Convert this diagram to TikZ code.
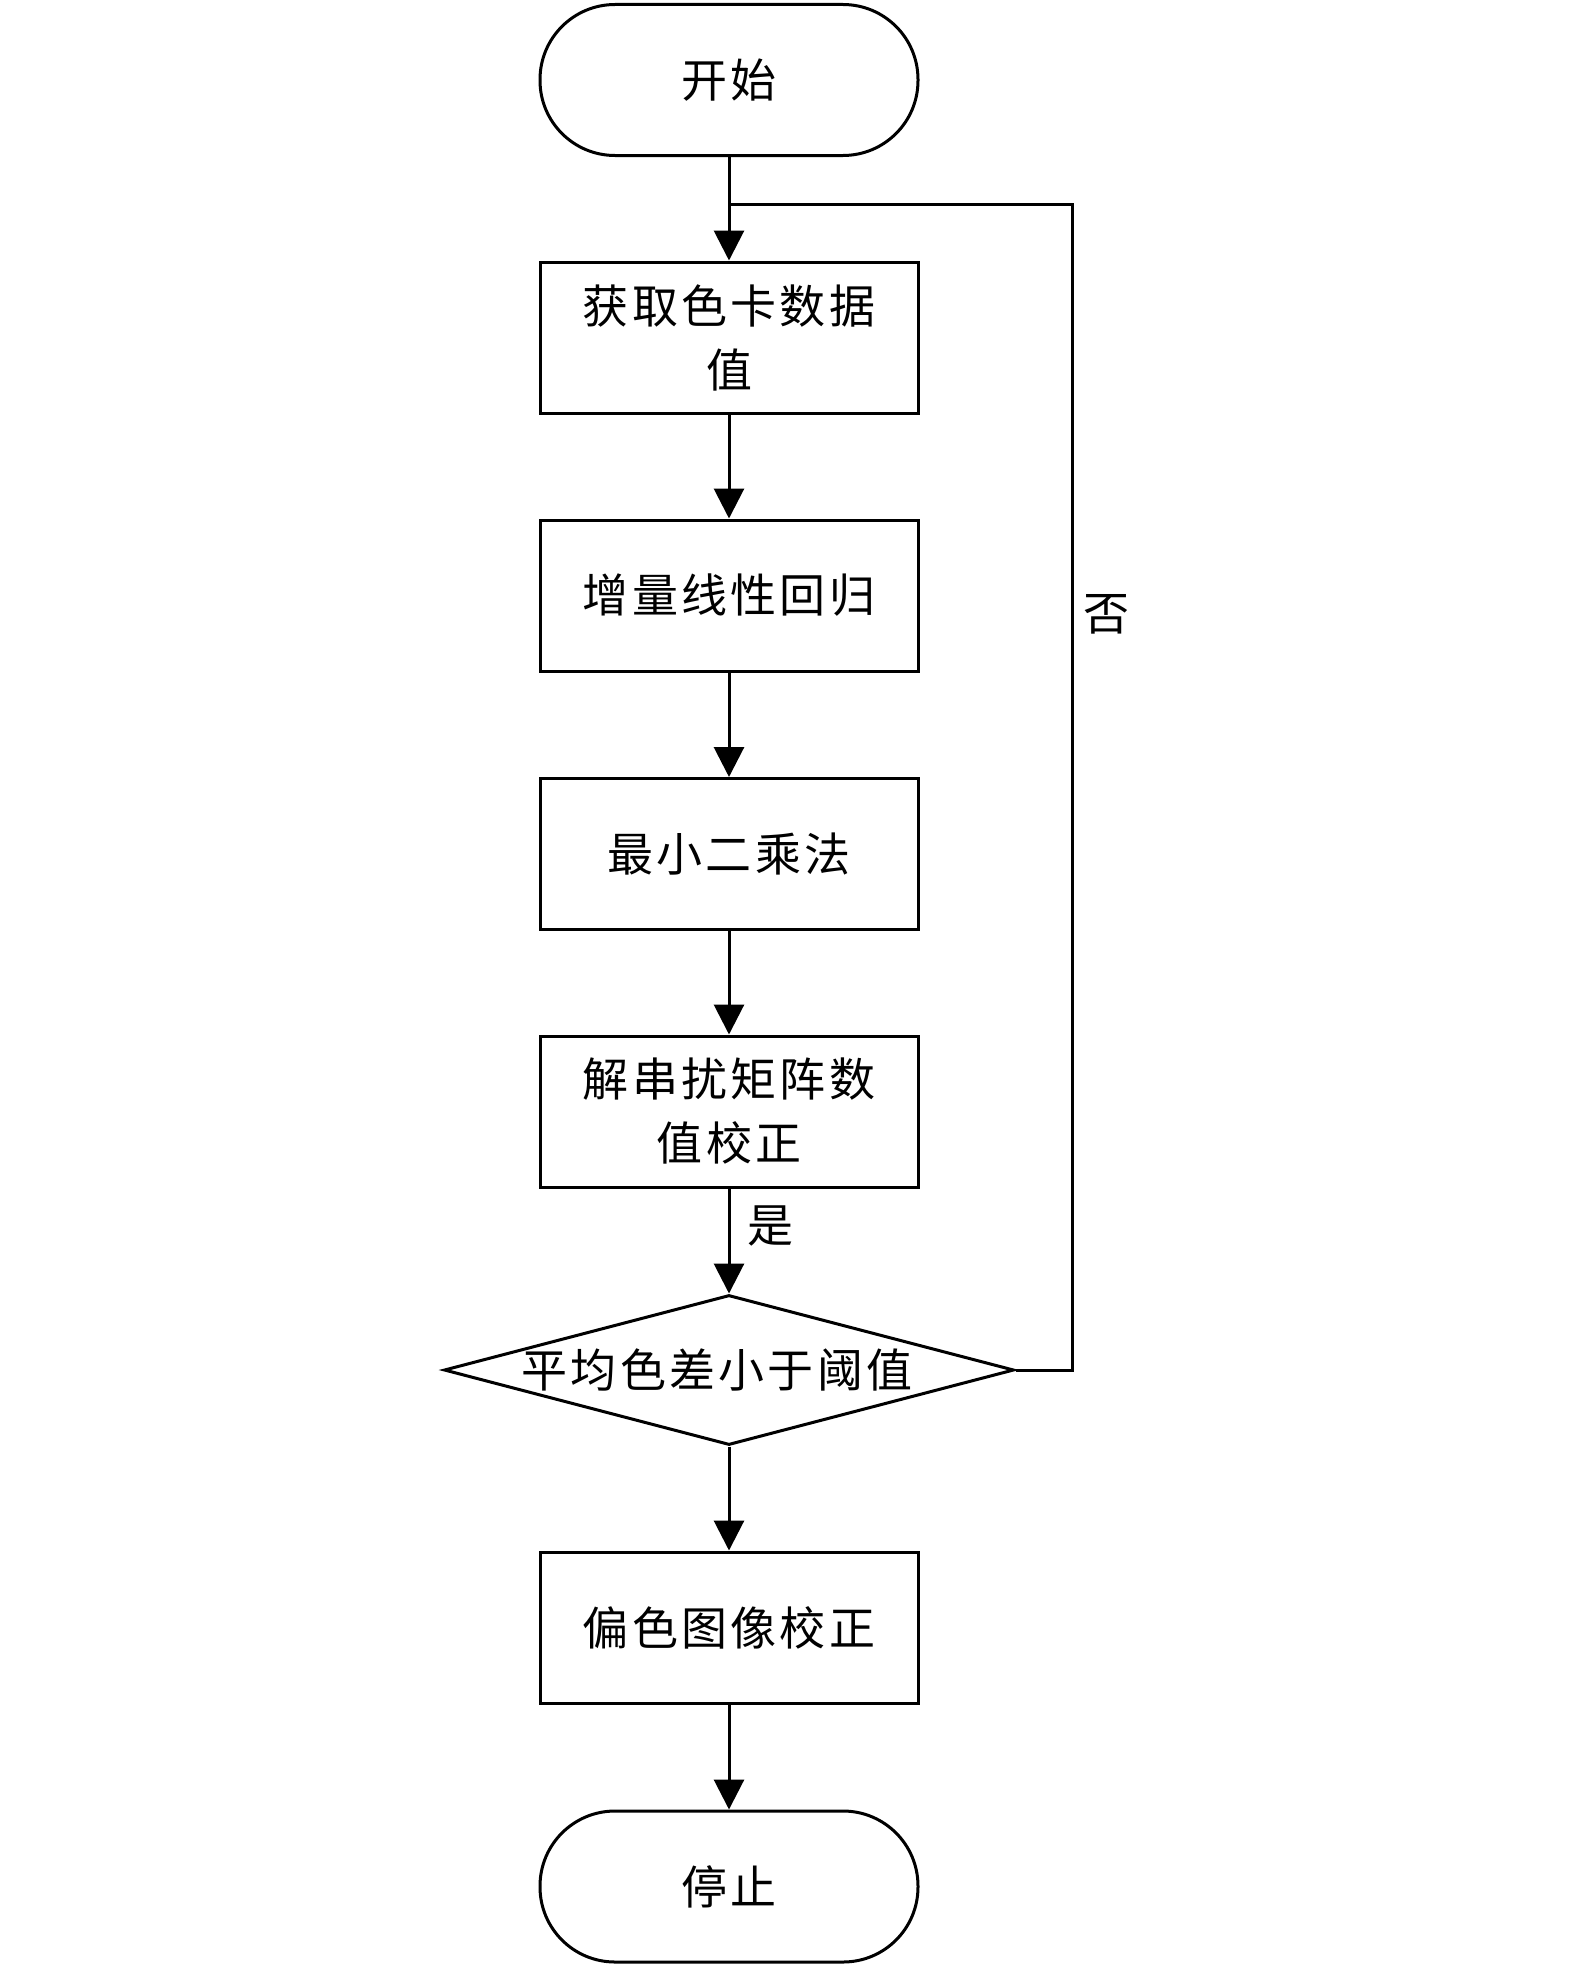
\documentclass[tikz,border=0pt]{standalone}
\usepackage{fontspec}
\setmainfont{Noto Sans CJK SC}[LetterSpace=7]
\usetikzlibrary{arrows.meta,shapes.geometric}
\begin{document}
\begin{tikzpicture}[x=1pt,y=-1pt,line width=3pt,
  txt/.style={font=\fontsize{46}{64}\selectfont},
  box/.style={draw,txt,minimum width=378pt,minimum height=151pt,align=center,inner sep=0pt},
  term/.style={box,rounded corners=75pt},
  arr/.style={-{Triangle[length=30pt,width=30pt]}}]
\fill[white] (0,0) rectangle (1575,1967);
\useasboundingbox (0,0) rectangle (1575,1967);
\node[term] (start) at (729,80) {开始};
\node[box] (b1) at (729,337.5) {获取色卡数据\\值};
\node[box] (b2) at (729,595.5) {增量线性回归};
\node[box] (b3) at (729,854) {最小二乘法};
\node[box] (b4) at (729,1111.5) {解串扰矩阵数\\值校正};
\node[draw,diamond,minimum width=570pt,minimum height=150pt,inner sep=0pt] (d) at (729,1370) {};
\node[txt,inner sep=0pt] (dt) at ([xshift=-12pt]d.center) {平均色差小于阈值};
\node[box] (b5) at (729,1627.5) {偏色图像校正};
\node[term] (stop) at (729,1886.5) {停止};
\coordinate (j) at (729,204);
\coordinate (c1) at (1072,1370);
\coordinate (c2) at (1072,204);
\draw[arr] (start) -- (b1);
\draw[arr] (b1) -- (b2);
\draw[arr] (b2) -- (b3);
\draw[arr] (b3) -- (b4);
\draw[arr] (b4) -- (d.north);
\draw[arr] (d.south) -- (b5);
\draw[arr] (b5) -- (stop);
\draw (d.east) -- (c1) -- (c2) -- (j);
\node[txt,inner sep=0pt] (yes) at (770,1226) {是};
\node[txt,inner sep=0pt] (no) at (1106,614) {否};
\end{tikzpicture}
\end{document}
